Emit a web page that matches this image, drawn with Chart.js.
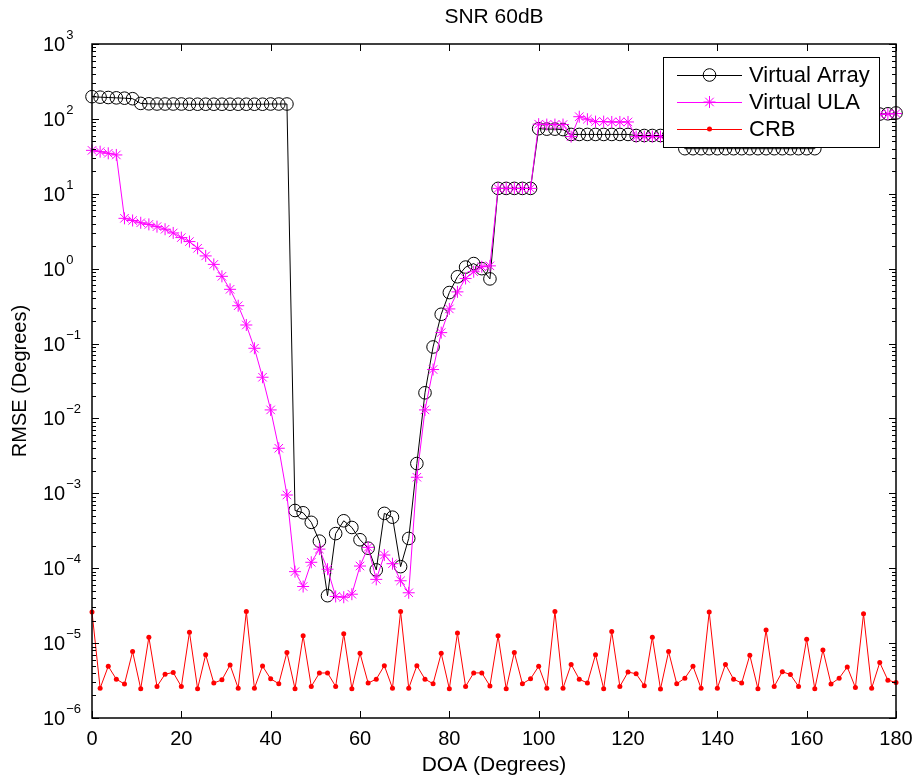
<!DOCTYPE html>
<html>
<head>
<meta charset="utf-8">
<title>SNR 60dB</title>
<script src="https://cdn.jsdelivr.net/npm/chart.js@4.4.0/dist/chart.umd.min.js"></script>
<style>
  html, body { margin: 0; padding: 0; background: #fff; }
  #wrap { position: relative; width: 918px; height: 780px; }
</style>
</head>
<body>
<div id="wrap"><canvas id="chart" width="918" height="780"></canvas></div>
<script>
(function(){
  'use strict';

  const FONT = '"Liberation Sans", Arial, Helvetica, sans-serif';

  // DOA grid (degrees), 100 points from 0 to 180
  const doa = [
    0, 1.82, 3.64, 5.45, 7.27, 9.09, 10.91, 12.73, 14.55, 16.36,
    18.18, 20.00, 21.82, 23.64, 25.45, 27.27, 29.09, 30.91, 32.73, 34.55,
    36.36, 38.18, 40.00, 41.82, 43.64, 45.45, 47.27, 49.09, 50.91, 52.73,
    54.55, 56.36, 58.18, 60.00, 61.82, 63.64, 65.45, 67.27, 69.09, 70.91,
    72.73, 74.55, 76.36, 78.18, 80.00, 81.82, 83.64, 85.45, 87.27, 89.09,
    90.91, 92.73, 94.55, 96.36, 98.18, 100.00, 101.82, 103.64, 105.45, 107.27,
    109.09, 110.91, 112.73, 114.55, 116.36, 118.18, 120.00, 121.82, 123.64, 125.45,
    127.27, 129.09, 130.91, 132.73, 134.55, 136.36, 138.18, 140.00, 141.82, 143.64,
    145.45, 147.27, 149.09, 150.91, 152.73, 154.55, 156.36, 158.18, 160.00, 161.82,
    163.64, 165.45, 167.27, 169.09, 170.91, 172.73, 174.55, 176.36, 178.18, 180.00
  ];

  const virtualArray = [
    198, 195, 193, 191, 189, 186, 161, 159, 158, 158,
    158, 158, 157, 157, 157, 157, 157, 157, 157, 157,
    157, 157, 158, 158, 158, 5.9e-4, 5.5e-4, 4.1e-4, 2.3e-4, 4.3e-5,
    2.9e-4, 4.3e-4, 3.5e-4, 2.4e-4, 1.85e-4, 9.5e-5, 5.4e-4, 4.8e-4, 1.05e-4, 2.5e-4,
    2.5e-3, 0.022, 0.09, 0.246, 0.48, 0.78, 1.05, 1.17, 1.0, 0.73,
    11.8, 11.8, 11.8, 11.8, 11.8, 74, 73, 73, 72, 62,
    62, 62, 62, 62, 62, 62, 62, 60, 60, 60,
    60, 60, 60, 40, 40, 40, 40, 40, 40, 40,
    40, 40, 40, 40, 40, 40, 40, 40, 40, 40,
    112, 112, 113, 113, 114, 114, 115, 116, 117, 120
  ];

  const virtualULA = [
    38, 36.5, 34.7, 33, 4.7, 4.4, 4.1, 3.9, 3.64, 3.36,
    3.0, 2.6, 2.3, 1.87, 1.48, 1.14, 0.79, 0.53, 0.32, 0.177,
    0.0865, 0.0355, 0.013, 0.004, 9.5e-4, 9.0e-5, 5.7e-5, 1.2e-4, 1.8e-4, 9.7e-5,
    4.2e-5, 4.1e-5, 4.5e-5, 1.07e-4, 1.9e-4, 7.1e-5, 1.5e-4, 1.15e-4, 6.8e-5, 4.7e-5,
    1.64e-3, 0.013, 0.045, 0.14, 0.29, 0.49, 0.74, 0.91, 1.06, 1.09,
    11.8, 11.8, 11.8, 11.8, 11.8, 85, 84, 84, 84, 58,
    107, 99, 92, 92, 91, 91, 91, 58, 58, 58,
    58, 58, 58, 58, 58, 58, 58, 58, 58, 58,
    58, 58, 58, 58, 58, 58, 58, 58, 58, 58,
    115, 115, 115, 115, 115, 115, 115, 115, 116, 118
  ];

  const crb = [
    2.6e-5, 2.5e-6, 4.9e-6, 3.3e-6, 2.84e-6, 7.7e-6, 2.46e-6, 1.2e-5, 2.64e-6, 3.85e-6,
    4.05e-6, 2.63e-6, 1.4e-5, 2.46e-6, 7.0e-6, 2.93e-6, 3.23e-6, 5.1e-6, 2.5e-6, 2.64e-5,
    2.5e-6, 4.93e-6, 3.33e-6, 2.87e-6, 7.5e-6, 2.46e-6, 1.25e-5, 2.64e-6, 3.98e-6, 4.0e-6,
    2.64e-6, 1.33e-5, 2.46e-6, 7.3e-6, 2.93e-6, 3.3e-6, 5.0e-6, 2.5e-6, 2.64e-5, 2.5e-6,
    5.0e-6, 3.3e-6, 2.87e-6, 7.3e-6, 2.46e-6, 1.36e-5, 2.64e-6, 4.0e-6, 4.0e-6, 2.68e-6,
    1.25e-5, 2.46e-6, 7.5e-6, 2.87e-6, 3.33e-6, 4.9e-6, 2.5e-6, 2.64e-5, 2.5e-6, 5.2e-6,
    3.3e-6, 2.93e-6, 7.0e-6, 2.46e-6, 1.43e-5, 2.64e-6, 4.1e-6, 3.9e-6, 2.7e-6, 1.2e-5,
    2.44e-6, 7.7e-6, 2.87e-6, 3.4e-6, 4.9e-6, 2.5e-6, 2.6e-5, 2.5e-6, 5.2e-6, 3.3e-6,
    2.93e-6, 6.9e-6, 2.46e-6, 1.5e-5, 2.64e-6, 4.15e-6, 3.8e-6, 2.64e-6, 1.13e-5, 2.46e-6,
    8.1e-6, 2.85e-6, 3.4e-6, 4.8e-6, 2.55e-6, 2.46e-5, 2.5e-6, 5.5e-6, 3.2e-6, 2.98e-6
  ];

  const xTicks = [0, 20, 40, 60, 80, 100, 120, 140, 160, 180];
  const yExponents = [-6, -5, -4, -3, -2, -1, 0, 1, 2, 3];

  const seriesNames = ['Virtual Array', 'Virtual ULA', 'CRB'];
  const seriesColors = ['#000000', '#ff00ff', '#ff0000'];

  function pts(ys){ return ys.map((y, i) => ({ x: doa[i], y: y })); }

  // axes box, inward ticks, tick labels, titles and legend (matlab look)
  const matlabAxes = {
    id: 'matlabAxes',
    afterDraw(chart){
      const ctx = chart.ctx;
      const a = chart.chartArea;
      const xs = chart.scales.x, ys = chart.scales.y;
      ctx.save();

      ctx.strokeStyle = '#000';
      ctx.lineWidth = 1;
      ctx.beginPath();
      // x ticks top & bottom
      xTicks.forEach(t => {
        const px = Math.round(xs.getPixelForValue(t)) + 0.5;
        ctx.moveTo(px, a.bottom); ctx.lineTo(px, a.bottom - 7);
        ctx.moveTo(px, a.top); ctx.lineTo(px, a.top + 7);
      });
      // y major + minor ticks left & right
      yExponents.forEach(e => {
        for (let m = 1; m <= 9; m++) {
          if (e === 3 && m > 1) break;
          const py = Math.round(ys.getPixelForValue(m * Math.pow(10, e))) + 0.5;
          const len = m === 1 ? 7 : 4;
          ctx.moveTo(a.left, py); ctx.lineTo(a.left + len, py);
          ctx.moveTo(a.right, py); ctx.lineTo(a.right - len, py);
        }
      });
      ctx.stroke();

      ctx.lineWidth = 1.5;
      ctx.strokeRect(a.left, a.top, a.right - a.left, a.bottom - a.top);

      // x tick labels
      ctx.fillStyle = '#000';
      ctx.font = '20px ' + FONT;
      ctx.textAlign = 'center';
      ctx.textBaseline = 'top';
      xTicks.forEach(t => {
        ctx.fillText(String(t), xs.getPixelForValue(t), a.bottom + 11);
      });

      // y tick labels 10^e, "10" starts at a fixed left edge
      ctx.textBaseline = 'alphabetic';
      ctx.textAlign = 'left';
      yExponents.forEach(e => {
        const py = ys.getPixelForValue(Math.pow(10, e));
        const exp = e < 0 ? '\u2212' + Math.abs(e) : String(e);
        ctx.font = '20px ' + FONT;
        const bw = ctx.measureText('10').width;
        ctx.fillText('10', 43, py + 7);
        ctx.font = '13px ' + FONT;
        ctx.fillText(exp, 43 + bw + 1, py - 5);
      });

      // titles
      ctx.textAlign = 'center';
      ctx.textBaseline = 'middle';
      ctx.font = '21px ' + FONT;
      ctx.fillText('SNR 60dB', (a.left + a.right) / 2, 17);
      ctx.fillText('DOA (Degrees)', (a.left + a.right) / 2, 765);
      ctx.font = '20px ' + FONT;
      ctx.save();
      ctx.translate(20, (a.top + a.bottom) / 2);
      ctx.rotate(-Math.PI / 2);
      ctx.fillText('RMSE (Degrees)', 0, 0);
      ctx.restore();

      // legend
      const lx = 663, ly = 57, lw = 216, lh = 90;
      ctx.fillStyle = '#fff';
      ctx.fillRect(lx, ly, lw, lh);
      ctx.lineWidth = 1;
      ctx.strokeStyle = '#000';
      ctx.strokeRect(lx + 0.5, ly + 0.5, lw, lh);
      const rows = [75, 102, 129];
      ctx.font = '22px ' + FONT;
      ctx.textAlign = 'left';
      ctx.textBaseline = 'middle';
      rows.forEach((ry, k) => {
        const col = seriesColors[k];
        ctx.strokeStyle = col;
        ctx.fillStyle = col;
        ctx.lineWidth = 1;
        ctx.beginPath();
        ctx.moveTo(677, ry + 0.5); ctx.lineTo(742, ry + 0.5);
        ctx.stroke();
        const mx = 709.5;
        ctx.beginPath();
        if (k === 0) {
          ctx.arc(mx, ry, 6.3, 0, Math.PI * 2);
          ctx.stroke();
        } else if (k === 1) {
          const r = 6;
          const d = r * Math.SQRT1_2;
          ctx.moveTo(mx - r, ry); ctx.lineTo(mx + r, ry);
          ctx.moveTo(mx, ry - r); ctx.lineTo(mx, ry + r);
          ctx.moveTo(mx - d, ry - d); ctx.lineTo(mx + d, ry + d);
          ctx.moveTo(mx - d, ry + d); ctx.lineTo(mx + d, ry - d);
          ctx.stroke();
        } else {
          ctx.arc(mx, ry, 2.5, 0, Math.PI * 2);
          ctx.fill();
        }
        ctx.fillStyle = '#000';
        ctx.fillText(seriesNames[k], 749, ry + 1);
      });

      ctx.restore();
    }
  };

  new Chart(document.getElementById('chart'), {
    type: 'line',
    data: {
      datasets: [
        {
          label: seriesNames[0],
          data: pts(virtualArray),
          borderColor: seriesColors[0],
          borderWidth: 1,
          pointStyle: 'circle',
          pointRadius: 6.3,
          pointBackgroundColor: 'rgba(0,0,0,0)',
          pointBorderColor: seriesColors[0],
          pointBorderWidth: 1,
          tension: 0,
          clip: false,
          order: 3
        },
        {
          label: seriesNames[1],
          data: pts(virtualULA),
          borderColor: seriesColors[1],
          borderWidth: 1,
          pointStyle: 'star',
          pointRadius: 6,
          pointBorderColor: seriesColors[1],
          pointBackgroundColor: seriesColors[1],
          pointBorderWidth: 1,
          tension: 0,
          clip: false,
          order: 2
        },
        {
          label: seriesNames[2],
          data: pts(crb),
          borderColor: seriesColors[2],
          borderWidth: 1,
          pointStyle: 'circle',
          pointRadius: 2.5,
          pointBackgroundColor: seriesColors[2],
          pointBorderColor: seriesColors[2],
          pointBorderWidth: 0,
          tension: 0,
          clip: false,
          order: 1
        }
      ]
    },
    options: {
      responsive: false,
      animation: false,
      devicePixelRatio: 1,
      layout: { padding: { left: 92, top: 44, right: 22, bottom: 62 } },
      plugins: {
        legend: { display: false },
        title: { display: false },
        tooltip: { enabled: false }
      },
      scales: {
        x: { type: 'linear', min: 0, max: 180, display: false },
        y: { type: 'logarithmic', min: 1e-6, max: 1e3, display: false }
      }
    },
    plugins: [matlabAxes]
  });
})();
</script>
</body>
</html>
